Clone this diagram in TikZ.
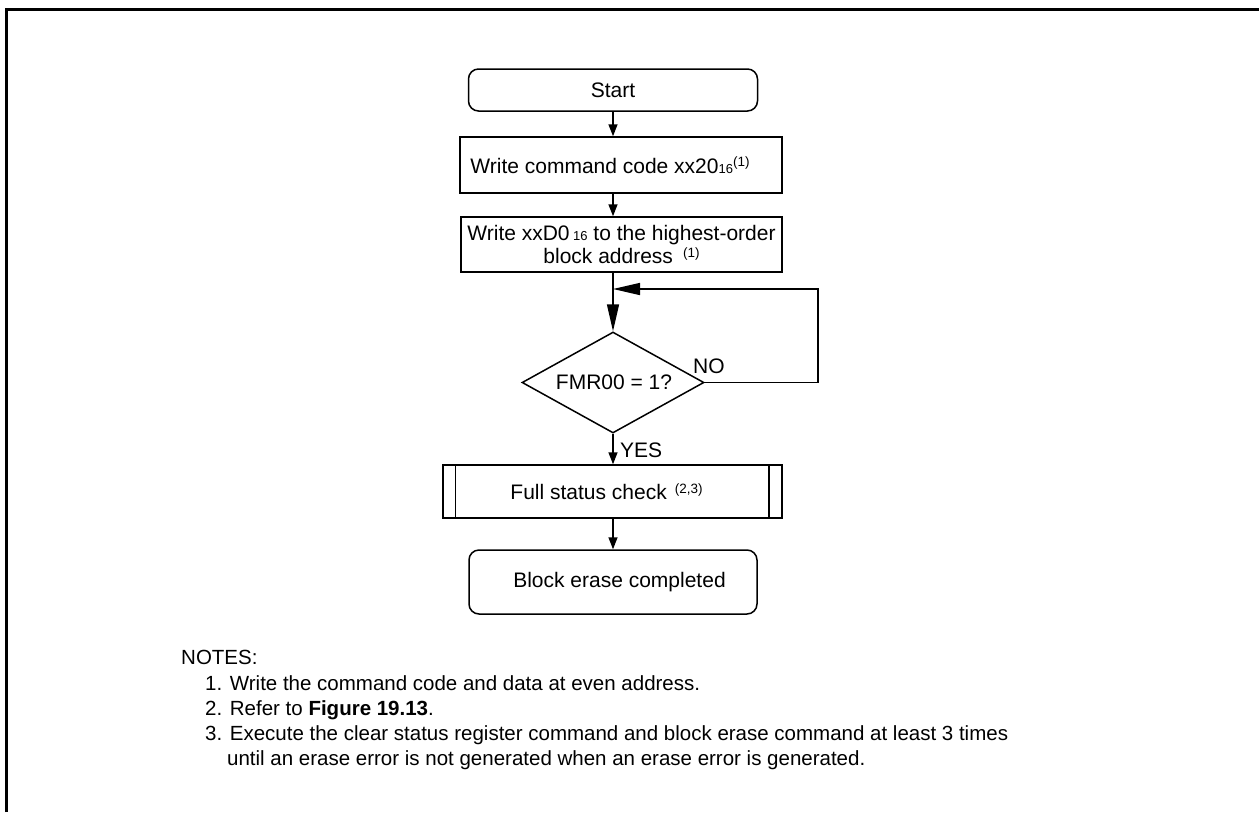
\documentclass[tikz,border=0pt]{standalone}
\usepackage{fontspec}
\setmainfont{Liberation Sans}
\usetikzlibrary{arrows.meta,shapes.geometric,calc}
\newcommand\subsc[1]{{\fontsize{13}{13}\selectfont #1}}
\newcommand\supsc[1]{\raisebox{6.5pt}{\fontsize{13.5}{13.5}\selectfont #1}}
\begin{document}
\begin{tikzpicture}[x=1pt,y=-1pt,
  every node/.style={font=\fontsize{21}{24}\selectfont},
  ln/.style={line width=1.5pt},
  term/.style={draw,ln,rounded corners=10pt,inner sep=0pt},
  proc/.style={draw,ln,inner sep=0pt,align=center},
  dec/.style={draw,ln,diamond,inner sep=0pt,minimum width=182pt,minimum height=101pt},
  arr/.style={ln,-{Triangle[length=12pt,width=9pt]}},
  bigarr/.style={ln,-{Triangle[length=27pt,width=12pt]}},
  txt/.style={inner sep=0pt,anchor=base west},
  note/.style={txt,font=\fontsize{20.5}{24}\selectfont},
]
\useasboundingbox (0,0) rectangle (1259,812);
\draw[line width=3pt] (6.5,812) -- (6.5,9.5) -- (1259,9.5);

\node[term,minimum width=289pt,minimum height=42pt] (start) at (613,90) {Start\hspace{6pt}};
\node[proc,minimum width=322pt,minimum height=56pt] (b1) at (621,165)
  {Write command code xx20\subsc{16}\supsc{(1)}\hspace{22pt}};
\node[proc,minimum width=321pt,minimum height=55pt,font=\fontsize{21}{23.5}\selectfont] (b2) at (621.5,244.5)
  {Write xxD0\,\subsc{16} to the highest-order\hspace{10pt}\\block address\hspace{10pt}\supsc{(1)}\hspace{12pt}};
\node[dec] (dec) at (613,382.5) {};
\node[inner sep=0pt] (dtxt) at (614,382) {FMR00 = 1?};
\node[proc,minimum width=339pt,minimum height=53pt] (fs) at (612.5,491.5)
  {Full status check\hspace{8pt}\supsc{(2,3)}\hspace{12pt}};
\draw[ln] ($(fs.north west)+(13,0)$) -- ($(fs.south west)+(13,0)$);
\draw[ln] ($(fs.north east)+(-14,0)$) -- ($(fs.south east)+(-14,0)$);
\node[term,minimum width=288pt,minimum height=64pt] (end) at (613,582) {\hspace{13pt}Block erase completed};

\draw[arr] (start.south) -- (start |- b1.north);
\draw[arr] (start |- b1.south) -- (start |- b2.north);
\draw[bigarr] (start |- b2.south) -- (dec.north);
\draw[arr] (dec.south) -- (start |- fs.north);
\draw[arr] (start |- fs.south) -- (end.north);
\coordinate (lp) at (818,289);
\draw[bigarr] (dec.east) -| (lp) -- (start |- lp);
\node[txt] (lno) at (693,373) {NO};
\node[txt] (lyes) at (620,457) {YES};

\node[note] (n0) at (181,664) {NOTES:};
\node[note] (n1) at (205,690) {1. Write the command code and data at even address.};
\node[note] (n2) at (205,715) {2. Refer to \textbf{Figure 19.13}.};
\node[note] (n3) at (205,740) {3. Execute the clear status register command and block erase command at least 3 times};
\node[note] (n4) at (227,765) {until an erase error is not generated when an erase error is generated.};
\end{tikzpicture}
\end{document}
